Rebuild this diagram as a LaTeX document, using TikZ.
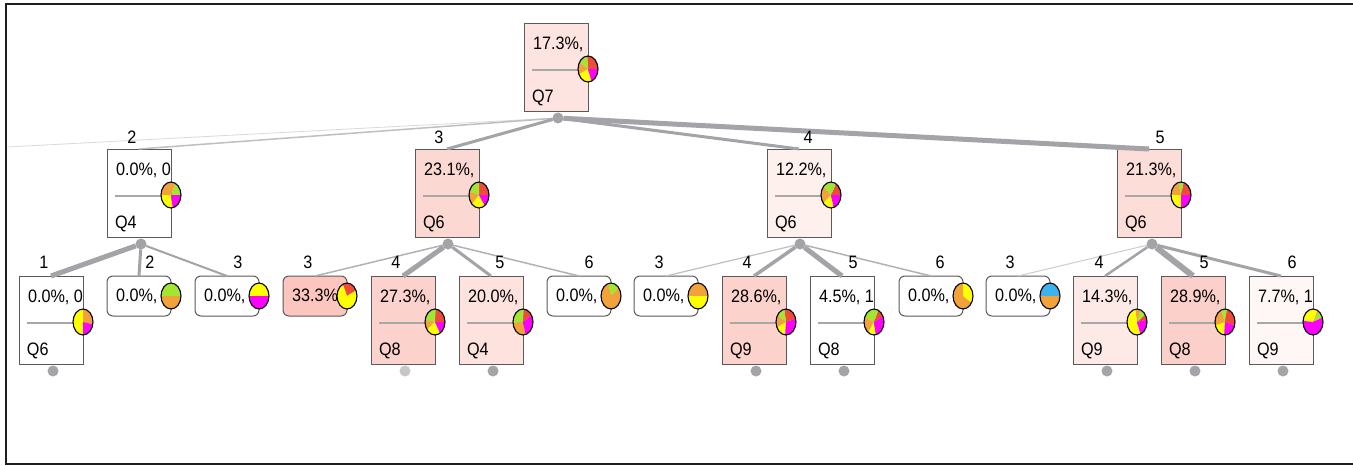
\documentclass[tikz,border=0pt]{standalone}
\usepackage{fontspec}
\setmainfont{Liberation Sans}[FakeStretch=0.9]
\usetikzlibrary{calc}

% slice colours
\definecolor{pOr}{HTML}{F2A23A}
\definecolor{pYe}{HTML}{FFFF00}
\definecolor{pMa}{HTML}{FF00FF}
\definecolor{pGr}{HTML}{A2E632}
\definecolor{pRe}{HTML}{EE4B3A}
\definecolor{pBl}{HTML}{3DB2EC}
% lines and box fills
\definecolor{edgegray}{HTML}{A3A3A8}
\definecolor{boxline}{HTML}{5A5A5A}
\definecolor{sepgray}{HTML}{A8A8A8}
\definecolor{fRoot}{HTML}{FDE4E0}
\definecolor{fB}{HTML}{FCD8D2}
\definecolor{fC}{HTML}{FEF0ED}
\definecolor{fD}{HTML}{FCDDD8}
\definecolor{fBthree}{HTML}{FCC6BE}
\definecolor{fBfour}{HTML}{FCD2CC}
\definecolor{fBfive}{HTML}{FDE2DE}
\definecolor{fCfour}{HTML}{FCD2CC}
\definecolor{fDfour}{HTML}{FDEAE6}
\definecolor{fDfive}{HTML}{FCD0CA}
\definecolor{fDsix}{HTML}{FFF7F5}

\tikzset{
  every node/.style={font=\fontsize{18}{20}\selectfont, inner sep=0pt, outer sep=0pt},
  tallbox/.style={draw=boxline, line width=1pt, minimum width=64pt, minimum height=88pt, anchor=north west},
  flatbox/.style={draw=boxline, line width=1pt, rounded corners=6pt, minimum width=64pt, minimum height=40pt, anchor=north west},
  junction/.style={circle, fill=edgegray, minimum size=11pt},
  branch/.style={draw=edgegray},
  sepline/.style={draw=sepgray, line width=1.5pt},
  numlabel/.style={anchor=center},
}

% a box with value, separator and question
\newcommand\tallnode[6]{%
  \node[tallbox, fill=#4] (#1) at (#2,#3) {};
  \node[anchor=base west] (#1-v) at ($(#1.north west)+(9,26)$) {#5};
  \draw[sepline] ($(#1.north west)+(8,47)$) -- ($(#1.north east)+(0,47)$);
  \node[anchor=base west] (#1-q) at ($(#1.north west)+(8,79)$) {#6};
  \coordinate (#1-pie) at ($(#1.north east)+(0,46)$);
}
% a flat leaf box with a value only
\newcommand\flatnode[5]{%
  \node[flatbox, fill=#4] (#1) at (#2,#3) {};
  \node[anchor=base west] (#1-v) at ($(#1.north west)+(9,25)$) {#5};
  \coordinate (#1-pie) at (#1.east);
}
% elliptic pie: centre, list of colour/start/end
\newcommand\pie[2]{%
  \foreach \col/\a/\b in {#2} {
    \fill[\col] (#1) -- ++(\a:10pt and 13pt)
      arc[start angle=\a, end angle=\b, x radius=10pt, y radius=13pt] -- cycle;
  }
  \draw[line width=1.1pt, black] (#1) ellipse[x radius=10pt, y radius=13pt];
}

\begin{document}
\begin{tikzpicture}[x=1pt, y=-1pt]
\useasboundingbox (0,0) rectangle (1353,466);
\fill[white] (0,0) rectangle (1353,466);

% frame
\draw[line width=2.5pt, black!88] (1353,4) -- (6,4) -- (6,464) -- (1353,464);

% ---------- boxes ----------
\tallnode{root}{524}{23}{fRoot}{17.3\%,}{Q7}

\tallnode{a}{107}{149}{white}{0.0\%, 0}{Q4}
\tallnode{b}{415}{149}{fB}{23.1\%,}{Q6}
\tallnode{c}{767}{149}{fC}{12.2\%,}{Q6}
\tallnode{d}{1117}{149}{fD}{21.3\%,}{Q6}

\tallnode{a1}{19}{276}{white}{0.0\%, 0}{Q6}
\flatnode{a2}{107}{276}{white}{0.0\%,}
\flatnode{a3}{195}{276}{white}{0.0\%,}

\flatnode{b3}{283}{276}{fBthree}{33.3\%}
\tallnode{b4}{371}{276}{fBfour}{27.3\%,}{Q8}
\tallnode{b5}{459}{276}{fBfive}{20.0\%,}{Q4}
\flatnode{b6}{547}{276}{white}{0.0\%,}

\flatnode{c3}{634}{276}{white}{0.0\%,}
\tallnode{c4}{722}{276}{fCfour}{28.6\%,}{Q9}
\tallnode{c5}{810}{276}{white}{4.5\%, 1}{Q8}
\flatnode{c6}{899}{276}{white}{0.0\%,}

\flatnode{d3}{986}{276}{white}{0.0\%,}
\tallnode{d4}{1073}{276}{fDfour}{14.3\%,}{Q9}
\tallnode{d5}{1161}{276}{fDfive}{28.9\%,}{Q8}
\tallnode{d6}{1249}{276}{fDsix}{7.7\%, 1}{Q9}

% ---------- junctions ----------
\node[junction] (rj) at (558,118) {};
\node[junction] (aj) at (141,244) {};
\node[junction] (bj) at (448,244) {};
\node[junction] (cj) at (800,244) {};
\node[junction] (dj) at (1152,244) {};
\coordinate (offleft) at (7,147);

% ---------- branches ----------
\draw[branch, draw=black!15, line width=0.8pt] (rj) -- (offleft);
\draw[branch, draw=black!25, line width=1.5pt] (rj) -- (a.north);
\draw[branch, line width=3pt] (rj) -- (b.north);
\draw[branch, line width=3pt] (rj) -- (c.north);
\draw[branch, line width=5pt] (rj) -- (d.north);

\draw[branch, line width=5pt] (aj) -- (a1.north);
\draw[branch, line width=3pt] (aj) -- (a2.north);
\draw[branch, line width=2pt] (aj) -- (a3.north);

\draw[branch, draw=black!30, line width=1.5pt] (bj) -- (b3.north);
\draw[branch, line width=5pt] (bj) -- (b4.north);
\draw[branch, line width=3pt] (bj) -- (b5.north);
\draw[branch, draw=black!30, line width=1.5pt] (bj) -- (b6.north);

\draw[branch, draw=black!25, line width=1.2pt] (cj) -- (c3.north);
\draw[branch, line width=3.5pt] (cj) -- (c4.north);
\draw[branch, line width=5pt] (cj) -- (c5.north);
\draw[branch, draw=black!30, line width=1.5pt] (cj) -- (c6.north);

\draw[branch, draw=black!20, line width=1pt] (dj) -- (d3.north);
\draw[branch, line width=2.5pt] (dj) -- (d4.north);
\draw[branch, line width=6pt] (dj) -- (d5.north);
\draw[branch, line width=3pt] (dj) -- (d6.north);

% ---------- branch labels ----------
\node[numlabel] (la) at (132,137) {2};
\node[numlabel] (lb) at (439,137) {3};
\node[numlabel] (lc) at (808,137) {4};
\node[numlabel] (ld) at (1160,137) {5};

\node[numlabel] (la1) at (44,262) {1};
\node[numlabel] (la2) at (150,262) {2};
\node[numlabel] (la3) at (238,262) {3};
\node[numlabel] (lb3) at (308,262) {3};
\node[numlabel] (lb4) at (396,262) {4};
\node[numlabel] (lb5) at (500,262) {5};
\node[numlabel] (lb6) at (589,262) {6};
\node[numlabel] (lc3) at (659,262) {3};
\node[numlabel] (lc4) at (747,262) {4};
\node[numlabel] (lc5) at (853,262) {5};
\node[numlabel] (lc6) at (940,262) {6};
\node[numlabel] (ld3) at (1010,262) {3};
\node[numlabel] (ld4) at (1099,262) {4};
\node[numlabel] (ld5) at (1204,262) {5};
\node[numlabel] (ld6) at (1292,262) {6};

% ---------- collapsed subtree markers ----------
\node[junction] (a1j) at ($(a1.south)+(2,7)$) {};
\node[junction, fill=black!22] (b4j) at ($(b4.south)+(2,7)$) {};
\node[junction] (b5j) at ($(b5.south)+(2,7)$) {};
\node[junction] (c4j) at ($(c4.south)+(2,7)$) {};
\node[junction] (c5j) at ($(c5.south)+(2,7)$) {};
\node[junction] (d4j) at ($(d4.south)+(2,7)$) {};
\node[junction] (d5j) at ($(d5.south)+(2,7)$) {};
\node[junction] (d6j) at ($(d6.south)+(2,7)$) {};

% ---------- pies ----------
\pie{root-pie}{pRe/0/95, pGr/95/150, pOr/150/205, pYe/205/290, pMa/290/360}
\pie{a-pie}{pGr/0/65, pOr/65/180, pYe/180/280, pMa/280/360}
\pie{b-pie}{pRe/0/90, pGr/90/165, pOr/165/225, pYe/225/305, pMa/305/360}
\pie{c-pie}{pRe/0/60, pGr/60/140, pOr/140/220, pYe/220/285, pMa/285/360}
\pie{d-pie}{pRe/0/75, pGr/75/105, pOr/105/180, pYe/180/270, pMa/270/360}

\pie{a1-pie}{pOr/-10/90, pYe/90/270, pMa/270/350}
\pie{a2-pie}{pGr/0/180, pOr/180/360}
\pie{a3-pie}{pYe/0/180, pMa/180/360}

\pie{b3-pie}{pRe/25/115, pYe/115/385}
\pie{b4-pie}{pRe/0/85, pGr/85/170, pOr/170/215, pYe/215/300, pMa/300/360}
\pie{b5-pie}{pRe/30/85, pGr/85/185, pOr/185/285, pMa/285/390}
\pie{b6-pie}{pGr/40/105, pOr/105/400}

\pie{c3-pie}{pOr/0/180, pYe/180/360}
\pie{c4-pie}{pRe/15/100, pGr/100/150, pOr/150/205, pYe/205/265, pMa/265/375}
\pie{c5-pie}{pRe/25/65, pGr/65/160, pOr/160/235, pYe/235/280, pMa/280/385}
\pie{c6-pie}{pOr/90/330, pYe/330/450}

\pie{d3-pie}{pBl/0/180, pOr/180/360}
\pie{d4-pie}{pRe/10/35, pGr/35/70, pOr/70/100, pYe/100/290, pMa/290/370}
\pie{d5-pie}{pRe/-15/80, pGr/80/115, pOr/115/195, pYe/195/265, pMa/265/345}
\pie{d6-pie}{pGr/20/55, pOr/55/65, pYe/65/175, pMa/175/380}
\end{tikzpicture}
\end{document}
